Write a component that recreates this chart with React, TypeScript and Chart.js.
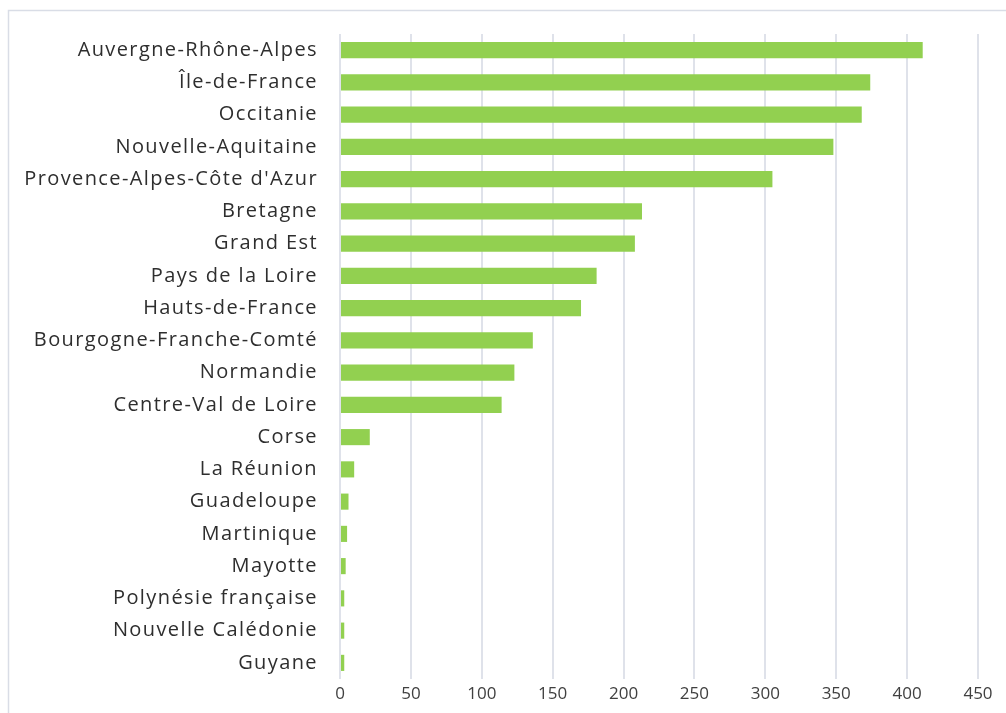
import React, { useEffect, useRef } from "react";
import { Chart, registerables } from "chart.js";

Chart.register(...registerables);

const regions = [
  "Auvergne-Rhône-Alpes",
  "Île-de-France",
  "Occitanie",
  "Nouvelle-Aquitaine",
  "Provence-Alpes-Côte d'Azur",
  "Bretagne",
  "Grand Est",
  "Pays de la Loire",
  "Hauts-de-France",
  "Bourgogne-Franche-Comté",
  "Normandie",
  "Centre-Val de Loire",
  "Corse",
  "La Réunion",
  "Guadeloupe",
  "Martinique",
  "Mayotte",
  "Polynésie française",
  "Nouvelle Calédonie",
  "Guyane",
];

const values = [411, 374, 368, 348, 305, 213, 208, 181, 170, 136, 123, 114, 21, 10, 6, 5, 4, 3, 3, 3];

const xMin = 0;
const xMax = 450;
const xStep = 50;

const framePlugin = {
  id: "frame",
  beforeDraw(chart: any) {
    const ctx = chart.ctx;
    ctx.save();
    ctx.fillStyle = "#ffffff";
    ctx.fillRect(0, 0, chart.width, chart.height);
    ctx.strokeStyle = "#d9dde6";
    ctx.lineWidth = 1.5;
    ctx.strokeRect(8.5, 10.5, chart.width + 20, chart.height + 20);
    ctx.restore();
  },
  afterDatasetsDraw(chart: any) {
    // the y-axis labels (ticks.z: 1) are drawn after this hook: widen their spacing
    (chart.ctx as any).letterSpacing = "1.4px";
  },
  afterDraw(chart: any) {
    (chart.ctx as any).letterSpacing = "0px";
  },
};

export default function App() {
  const ref = useRef<HTMLCanvasElement | null>(null);

  useEffect(() => {
    const prevMargin = document.body.style.margin;
    document.body.style.margin = "0";
    if (!ref.current) return;
    const chart = new Chart(ref.current, {
      type: "bar",
      data: {
        labels: regions,
        datasets: [
          {
            data: values,
            backgroundColor: "#92d050",
            borderWidth: 0,
            barPercentage: 0.5,
            categoryPercentage: 1,
          },
        ],
      },
      options: {
        indexAxis: "y",
        responsive: false,
        animation: false,
        layout: { padding: { top: 31, right: 28, bottom: 0, left: 0 } },
        plugins: {
          legend: { display: false },
          tooltip: { enabled: false },
        },
        scales: {
          x: {
            min: xMin,
            max: xMax,
            border: { display: false },
            grid: { color: "#dfe2ea", lineWidth: 2, drawTicks: false },
            ticks: {
              stepSize: xStep,
              color: "#404040",
              padding: 5,
              font: { family: "'Open Sans', sans-serif", size: 17 },
            },
            afterFit(scale: any) {
              scale.height = 34;
            },
          },
          y: {
            border: { display: false },
            grid: { display: false, drawTicks: false },
            ticks: {
              z: 1,
              autoSkip: false,
              color: "#2e2e2e",
              padding: 22,
              font: { family: "'Open Sans', sans-serif", size: 20 },
            },
            afterFit(scale: any) {
              scale.width = 340;
            },
          },
        },
      },
      plugins: [framePlugin],
    });
    return () => {
      chart.destroy();
      document.body.style.margin = prevMargin;
    };
  }, []);

  return (
    <div style={{ position: "absolute", left: 0, top: 0, width: 1006, height: 713 }}>
      <canvas ref={ref} width={1006} height={713} style={{ display: "block" }} />
    </div>
  );
}
